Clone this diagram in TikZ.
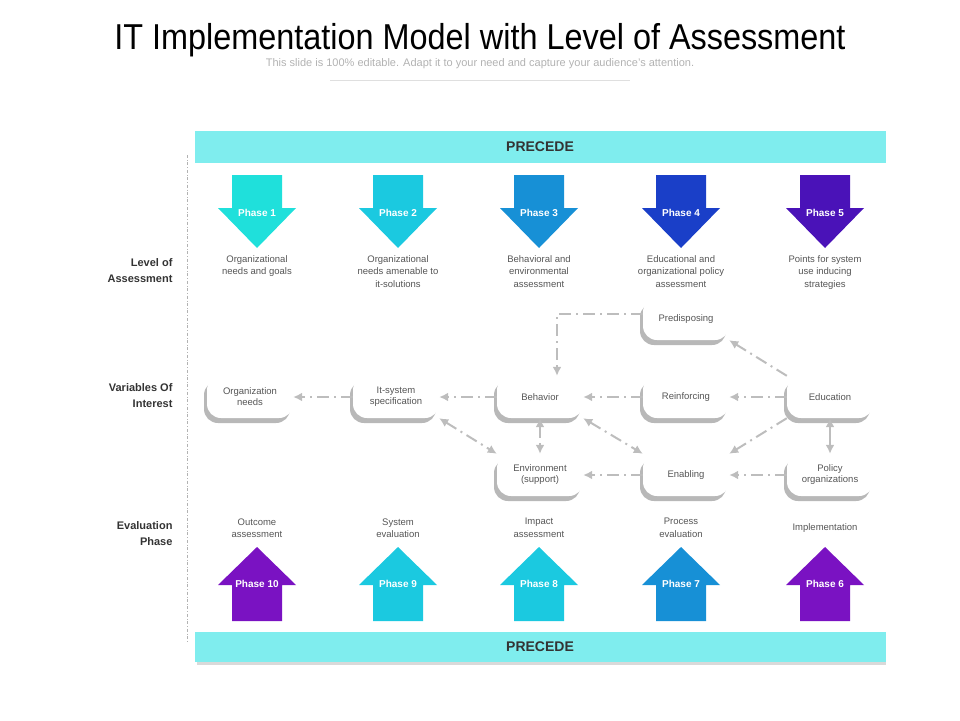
\documentclass[tikz,border=0pt]{standalone}
\usepackage{fontspec}
\setmainfont{Liberation Sans}
\usetikzlibrary{shadows,arrows.meta}
\definecolor{band}{HTML}{7FEDEE}
\definecolor{linkgray}{HTML}{BDBDBD}
\definecolor{txtgray}{HTML}{555555}
\definecolor{pA}{HTML}{1FE0DB}
\definecolor{pB}{HTML}{1BC9E0}
\definecolor{pC}{HTML}{1790D6}
\definecolor{pD}{HTML}{1A3FC8}
\definecolor{pE}{HTML}{4A12B8}
\definecolor{pF}{HTML}{7A12C2}
\tikzset{
  varbox/.style={rectangle,rounded corners=14pt,fill=white,minimum width=86pt,minimum height=42pt,
    align=center,font=\fontsize{9.5}{11}\selectfont,text=txtgray,
    general shadow={fill=gray!70,shadow xshift=-3pt,shadow yshift=-5pt,opacity=.8}},
  link/.style={draw=linkgray,line width=2pt,dash pattern=on 12pt off 5pt on 2pt off 5pt,->},
  desc/.style={align=center,font=\fontsize{9.5}{12.5}\selectfont,text=txtgray},
  side/.style={align=right,anchor=east,font=\bfseries\fontsize{11}{16}\selectfont,text=black!80},
  phasetxt/.style={text=white,font=\bfseries\fontsize{10}{12}\selectfont},
}
\newcommand\phasedown[4]{% name, x, colour, label
  \fill[#3] (#2-25,175) -- (#2+25,175) -- (#2+25,208) -- (#2+39,208) -- (#2,248)
    -- (#2-39,208) -- (#2-25,208) -- cycle;
  \node[phasetxt] (#1) at (#2,213) {#4};}
\newcommand\phaseup[4]{%
  \fill[#3] (#2-25,621) -- (#2+25,621) -- (#2+25,585) -- (#2+39,585) -- (#2,547)
    -- (#2-39,585) -- (#2-25,585) -- cycle;
  \node[phasetxt] (#1) at (#2,584) {#4};}
\begin{document}
\begin{tikzpicture}[x=1pt,y=-1pt,>={Latex[length=9pt,width=9pt]}]
  \useasboundingbox (0,0) rectangle (960,720);
  % title
  \node[font=\fontsize{36}{40}\selectfont,xscale=.9] (title) at (480,40) {IT Implementation Model with Level of Assessment};
  \node[font=\fontsize{11}{13}\selectfont,text=gray!60] (sub) at (480,64) {This slide is 100\% editable. Adapt it to your need and capture your audience’s attention.};
  \draw[gray!25] (330,80) -- (630,80);
  % bands
  \fill[band] (195,131) rectangle (886,163);
  \node[font=\bfseries\fontsize{14}{16}\selectfont,text=black!80] (top) at (540,147) {PRECEDE};
  \fill[gray!30] (197,662) rectangle (886,665);
  \fill[band] (195,632) rectangle (886,662);
  \node[font=\bfseries\fontsize{14}{16}\selectfont,text=black!80] (bot) at (540,647) {PRECEDE};
  \draw[gray!60,dash dot,line width=.8pt] (187,155) -- (187,642);
  % side labels
  \node[side] (lvl) at (176,271) {Level of\\Assessment};
  \node[side] (var) at (176,396) {Variables Of\\Interest};
  \node[side] (evl) at (176,534) {Evaluation\\Phase};
  % phases
  \phasedown{ph1}{257}{pA}{Phase 1}
  \phasedown{ph2}{398}{pB}{Phase 2}
  \phasedown{ph3}{539}{pC}{Phase 3}
  \phasedown{ph4}{681}{pD}{Phase 4}
  \phasedown{ph5}{825}{pE}{Phase 5}
  \phaseup{ph10}{257}{pF}{Phase 10}
  \phaseup{ph9}{398}{pB}{Phase 9}
  \phaseup{ph8}{539}{pB}{Phase 8}
  \phaseup{ph7}{681}{pC}{Phase 7}
  \phaseup{ph6}{825}{pF}{Phase 6}
  \node[desc,anchor=north] (d1) at (257,252) {Organizational\\needs and goals};
  \node[desc,anchor=north] (d2) at (398,252) {Organizational\\needs amenable to\\it-solutions};
  \node[desc,anchor=north] (d3) at (539,252) {Behavioral and\\environmental\\assessment};
  \node[desc,anchor=north] (d4) at (681,252) {Educational and\\organizational policy\\assessment};
  \node[desc,anchor=north] (d5) at (825,252) {Points for system\\use inducing\\strategies};
  \node[desc] (e10) at (257,528) {Outcome\\assessment};
  \node[desc] (e9) at (398,528) {System\\evaluation};
  \node[desc] (e8) at (539,528) {Impact\\assessment};
  \node[desc] (e7) at (681,528) {Process\\evaluation};
  \node[desc] (e6) at (825,528) {Implementation};
  % variables
  \node[varbox] (org) at (250,397) {Organization\\needs};
  \node[varbox] (its) at (396,397) {It-system\\specification};
  \node[varbox] (beh) at (540,397) {Behavior};
  \node[varbox] (rei) at (686,397) {Reinforcing};
  \node[varbox] (edu) at (830,397) {Education};
  \node[varbox] (pre) at (686,319) {Predisposing};
  \node[varbox] (env) at (540,475) {Environment\\(support)};
  \node[varbox] (ena) at (686,475) {Enabling};
  \node[varbox] (pol) at (830,475) {Policy\\organizations};
  % links
  \draw[link] (its) -- (org);
  \draw[link] (beh) -- (its);
  \draw[link] (rei) -- (beh);
  \draw[link] (edu) -- (rei);
  \draw[link] (edu.north west) -- (pre.south east);
  \draw[link] ([yshift=5pt]pre.west) -| ([xshift=17pt]beh.north);
  \draw[link] (edu.south west) -- (ena.north east);
  \draw[link] (pol) -- (ena);
  \draw[link] (ena) -- (env);
  \draw[link,<->] (beh.south east) -- (ena.north west);
  \draw[link,<->] (its.south east) -- (env.north west);
  \draw[link,<->] (beh) -- (env);
  \draw[link,solid,<->] (edu) -- (pol);
\end{tikzpicture}
\end{document}
